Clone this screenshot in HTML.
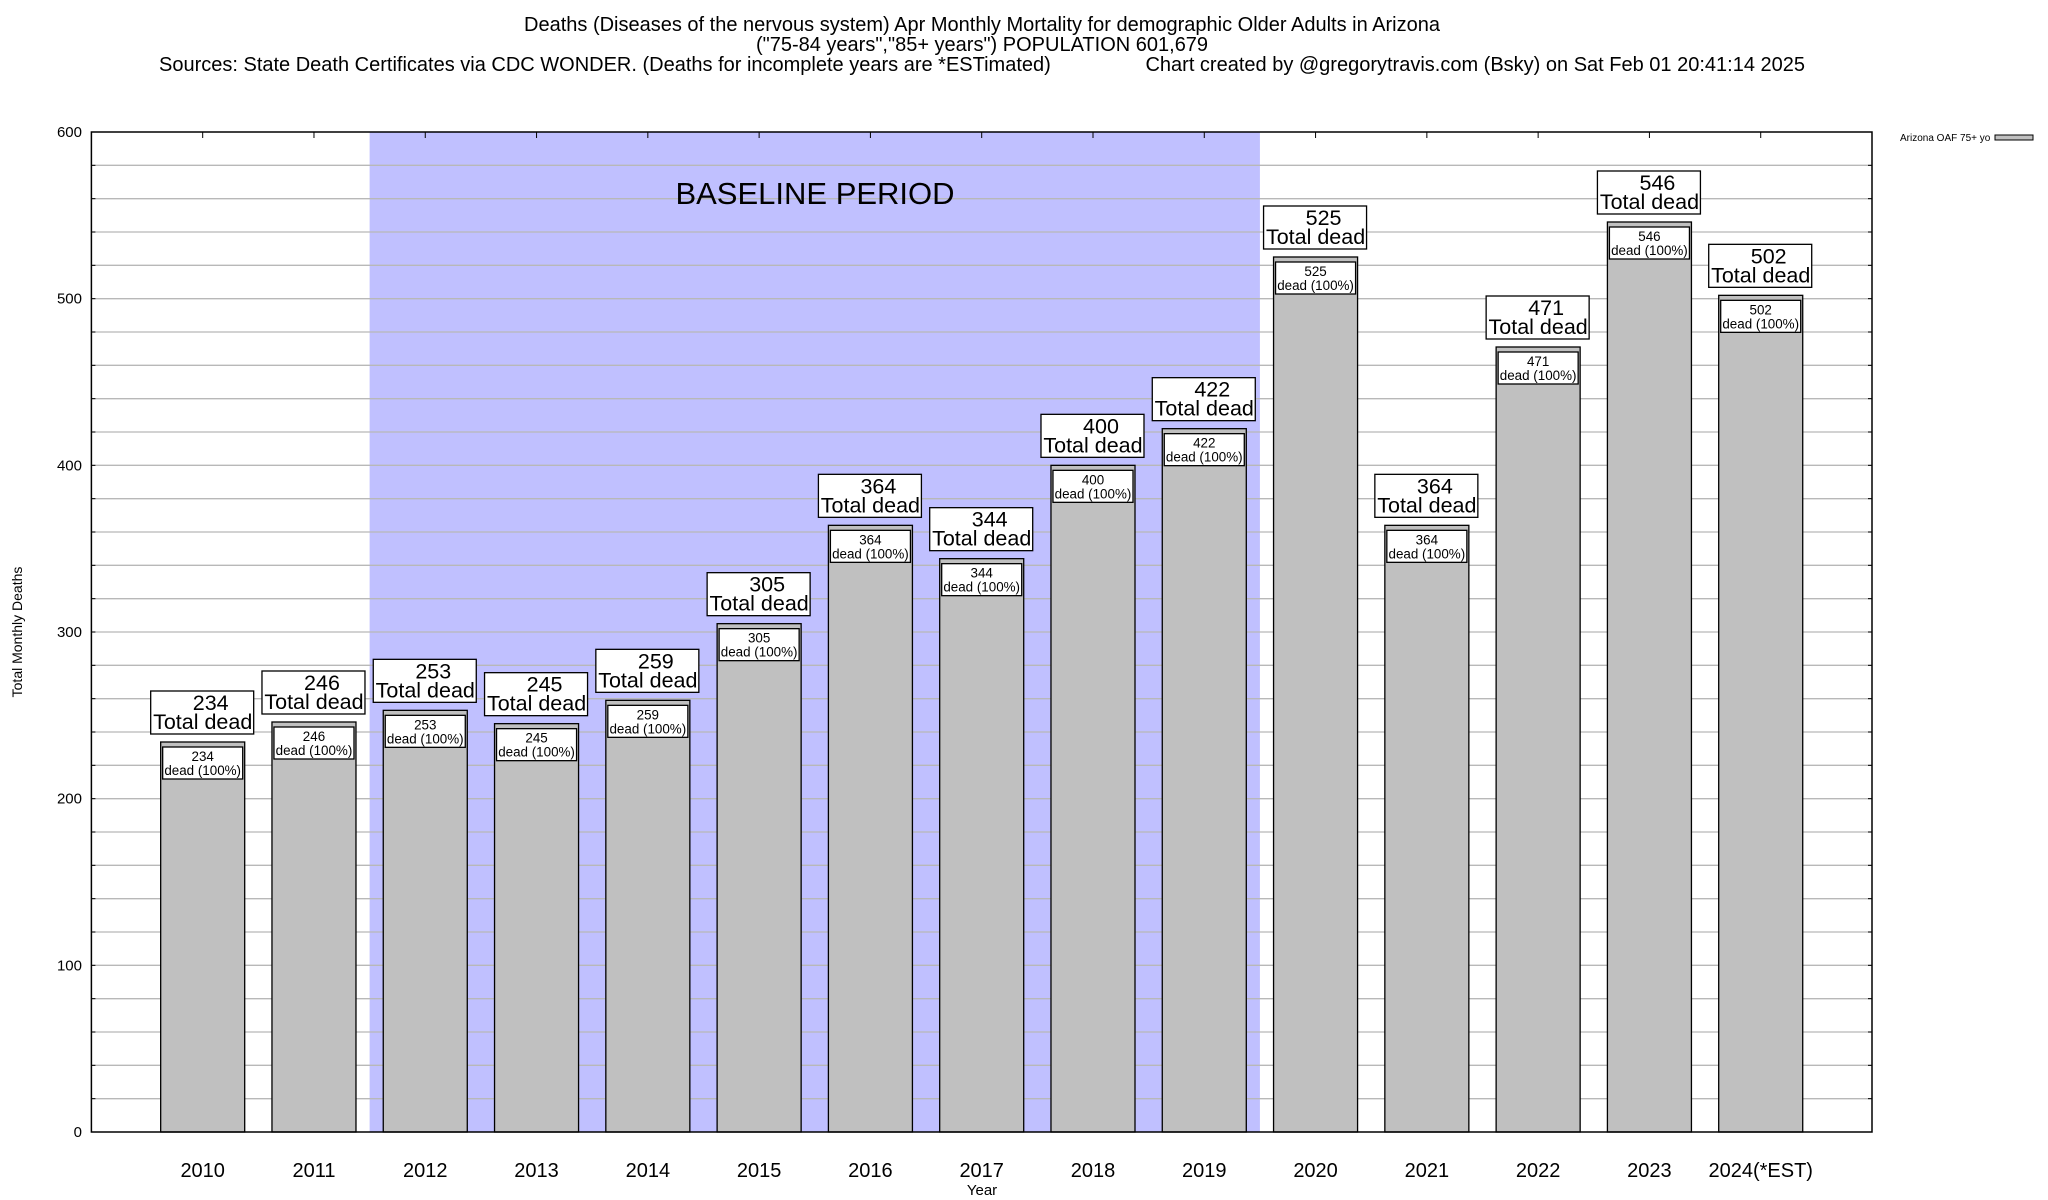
<!DOCTYPE html>
<html><head><meta charset="utf-8"><style>
html,body{margin:0;padding:0;background:#fff;}
svg{display:block;font-family:"Liberation Sans",Arial,sans-serif;}
</style></head><body>
<svg id="chart" width="2048" height="1200" viewBox="0 0 2048 1200" xmlns="http://www.w3.org/2000/svg">
<g font-size="20" text-anchor="middle">
<text x="982" y="31">Deaths (Diseases of the nervous system) Apr Monthly Mortality for demographic Older Adults in Arizona</text>
<text x="982" y="51">("75-84 years","85+ years") POPULATION 601,679</text>
<text x="159" y="71" text-anchor="start">Sources: State Death Certificates via CDC WONDER. (Deaths for incomplete years are *ESTimated)</text>
<text x="1805" y="71" text-anchor="end">Chart created by @gregorytravis.com (Bsky) on Sat Feb 01 20:41:14 2025</text>
</g>
<g id="plot"></g>
<text x="22" y="632" font-size="14" text-anchor="middle" transform="rotate(-90 22 632)">Total Monthly Deaths</text>
<text x="982" y="1195" font-size="15" text-anchor="middle">Year</text>
<g>
<text x="1900" y="141" font-size="10">Arizona OAF 75+ yo</text>
<rect x="1995" y="135" width="38" height="5" fill="#c0c0c0" stroke="#000" stroke-width="1"/>
</g>
</svg>
<script>
const categories = ["2010","2011","2012","2013","2014","2015","2016","2017","2018","2019","2020","2021","2022","2023","2024(*EST)"];
const values = [234,246,253,245,259,305,364,344,400,422,525,364,471,546,502];
const yTicks = [0,100,200,300,400,500,600];
const baselineStart = 1.5, baselineEnd = 9.5;

const NS = "http://www.w3.org/2000/svg";
const L = 91.4, R = 1872, T = 132, B = 1132;
const yMax = 600;
const xs = i => L + (i + 1) * (R - L) / (categories.length + 1);
const ys = v => B - v * (B - T) / yMax;
const step = (R - L) / (categories.length + 1);
const bw = step * 0.755;
const plot = document.getElementById('plot');
function mk(tag, attrs, parent) {
  const e = document.createElementNS(NS, tag);
  for (const k in attrs) e.setAttribute(k, attrs[k]);
  (parent || plot).appendChild(e);
  return e;
}
const bl = mk('rect', {x: xs(baselineStart), y: T, width: xs(baselineEnd) - xs(baselineStart), height: B - T, fill: '#c0c0ff'});


for (let v = 20; v < yMax; v += 20) {
  const g = mk('line', {x1: L, x2: R, y1: ys(v), y2: ys(v), stroke: '#b8b8b8', 'stroke-width': 1.3});
  
  
  const t1 = mk('line', {x1: L, x2: L + 4, y1: ys(v), y2: ys(v), stroke: '#000'});
  
  
  const t2 = mk('line', {x1: R - 4, x2: R, y1: ys(v), y2: ys(v), stroke: '#000'});
  
  
}
const bp = mk('text', {x: 815, y: 204, 'font-size': 31, 'text-anchor': 'middle'});
bp.textContent = 'BASELINE PERIOD';


yTicks.forEach(v => {
  const t = mk('text', {x: 82, y: ys(v) + 5, 'font-size': 15, 'text-anchor': 'end'});
  t.textContent = v;
  
  
});
categories.forEach((c, i) => {
  const v = values[i];
  const cx = xs(i), top = ys(v);
  const b = mk('rect', {x: cx - bw / 2, y: top, width: bw, height: B - top, fill: '#c0c0c0', stroke: '#000', 'stroke-width': 1.3});
  
  
  const ib = mk('rect', {x: cx - bw / 2 + 2, y: top + 5, width: bw - 4, height: 32, fill: '#fff', stroke: '#000', 'stroke-width': 1.3});
  
  
  const it1 = mk('text', {x: cx, y: top + 19, 'font-size': 13.4, 'text-anchor': 'middle'});
  it1.textContent = v;
  
  
  const it2 = mk('text', {x: cx, y: top + 33, 'font-size': 13.4, 'text-anchor': 'middle'});
  it2.textContent = 'dead (100%)';
  
  
  const ob = mk('rect', {x: cx - 52, y: top - 51, width: 103, height: 43, fill: '#fff', stroke: '#000', 'stroke-width': 1.3});
  
  
  const ot1 = mk('text', {x: cx + 8, y: top - 32, 'font-size': 21.5, 'text-anchor': 'middle'});
  ot1.textContent = v;
  
  
  const ot2 = mk('text', {x: cx, y: top - 13, 'font-size': 21.5, 'text-anchor': 'middle'});
  ot2.textContent = 'Total dead';
  
  
  const xl = mk('text', {x: cx, y: 1177, 'font-size': 20, 'text-anchor': 'middle'});
  xl.textContent = c;
  
  
  const tt = mk('line', {x1: cx, x2: cx, y1: T, y2: T + 6, stroke: '#000'});
  
  
});
const frame = mk('rect', {x: L, y: T, width: R - L, height: B - T, fill: 'none', stroke: '#000', 'stroke-width': 1.5});


</script>
</body></html>
